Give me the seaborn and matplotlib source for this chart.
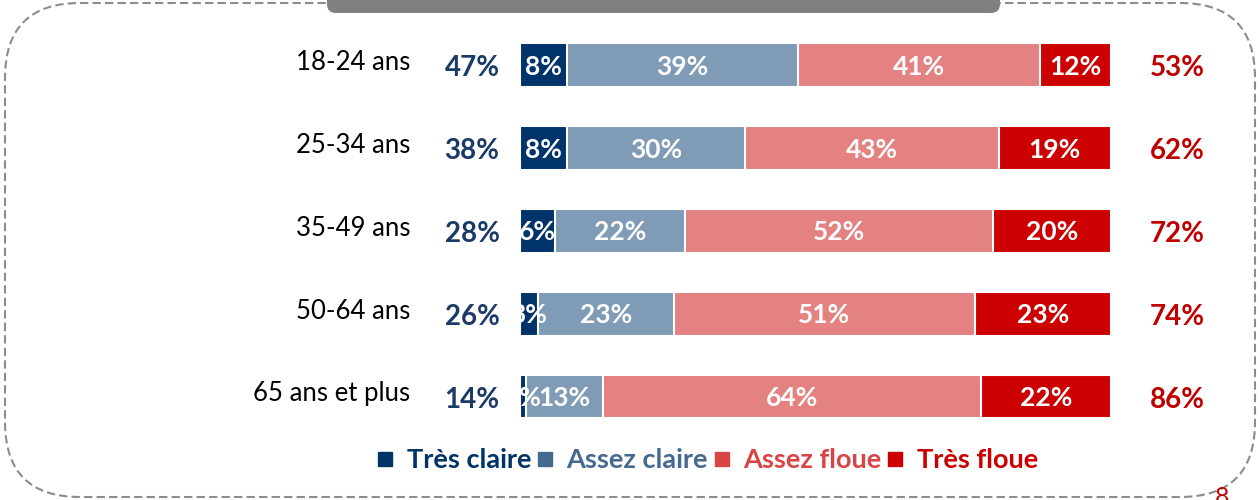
import seaborn as sns
import matplotlib.pyplot as plt
from matplotlib.patches import FancyBboxPatch
from matplotlib.lines import Line2D

# Data
ages = ["18-24 ans", "25-34 ans", "35-49 ans", "50-64 ans", "65 ans et plus"]
tres_claire = [8, 8, 6, 3, 1]
assez_claire = [39, 30, 22, 23, 13]
assez_floue = [41, 43, 52, 51, 64]
tres_floue = [12, 19, 20, 23, 22]
total_claire = [47, 38, 28, 26, 14]
total_floue = [53, 62, 72, 74, 86]

series = ["Très claire", "Assez claire", "Assez floue", "Très floue"]
bar_colors = ["#00336A", "#7F9BB5", "#E48181", "#CC0000"]
legend_colors = ["#003366", "#46698F", "#D94545", "#CC0000"]

if __name__ == "__main__":
    sns.set_style("white")
    plt.rcParams["font.family"] = ["Lato", "DejaVu Sans"]

    fig = plt.figure(figsize=(12.6, 5), dpi=100)

    # background: dashed rounded frame, grey title banner, page number
    bg = fig.add_axes([0, 0, 1, 1], zorder=0)
    bg.set_xlim(0, 1260)
    bg.set_ylim(500, 0)
    bg.axis("off")
    frame = FancyBboxPatch((5, 3), 1250, 494, boxstyle="round,pad=0,rounding_size=75",
                           fill=False, edgecolor="#8C8C8C", linewidth=1.5,
                           linestyle=(0, (4, 2)))
    bg.add_patch(frame)
    banner = FancyBboxPatch((327, -40), 673, 53, boxstyle="round,pad=0,rounding_size=9",
                            facecolor="#7F7F7F", edgecolor="none")
    bg.add_patch(banner)
    bg.text(1222, 486, "8", color="#C00000", fontsize=18, ha="center", va="top",
            clip_on=False)

    # stacked bars
    ax = fig.add_axes([520 / 1260, 0.1242, 591 / 1260, 0.8286], zorder=1)
    ax.patch.set_alpha(0)
    parts = [tres_claire, assez_claire, assez_floue, tres_floue]
    cums = []
    run = [0] * len(ages)
    for p in parts:
        run = [a + b for a, b in zip(run, p)]
        cums.append(run)
    for cum, col in reversed(list(zip(cums, bar_colors))):
        sns.barplot(x=cum, y=ages, orient="h", color=col, saturation=1, width=0.53,
                    edgecolor="white", linewidth=1.5, ax=ax)

    ax.set_xlim(0, 100)
    ax.set_ylim(4.5, -0.5)
    ax.set_xlabel("")
    ax.set_ylabel("")
    ax.set_xticks([])
    ax.set_yticks([])
    sns.despine(ax=ax, left=True, bottom=True)

    for i in range(len(ages)):
        start = 0
        for p in parts:
            v = p[i]
            ax.text(start + v / 2, i + 0.02, f"{v}%", color="white", fontsize=19,
                    fontweight="bold", ha="center", va="center", clip_on=True)
            start += v
        ax.text(-18.6, i - 0.03, ages[i], color="black", fontsize=18.5,
                ha="right", va="center", clip_on=False)
        ax.text(-8.1, i + 0.04, f"{total_claire[i]}%", color="#1B3A66", fontsize=20,
                fontweight="bold", ha="center", va="center", clip_on=False)
        ax.text(111.2, i + 0.04, f"{total_floue[i]}%", color="#C00000", fontsize=20,
                fontweight="bold", ha="center", va="center", clip_on=False)

    handles = [Line2D([], [], marker="s", linestyle="none", markersize=10.5,
                      markerfacecolor=c, markeredgecolor=c) for c in legend_colors]
    leg = fig.legend(handles, series, loc="center", bbox_to_anchor=(0.561, 0.079),
                     ncol=4, frameon=False, handlelength=0.7, handletextpad=0.45,
                     columnspacing=0.15, prop={"size": 19.5, "weight": "bold"})
    for t, c in zip(leg.get_texts(), legend_colors):
        t.set_color(c)

    fig.savefig("out.png", dpi=100)
